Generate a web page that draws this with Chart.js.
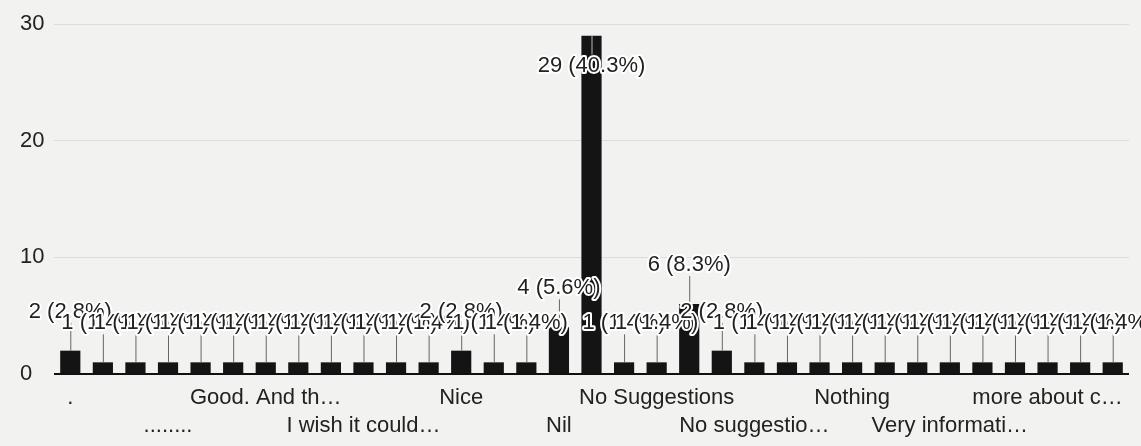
<!DOCTYPE html>
<html>
<head>
<meta charset="utf-8">
<script src="https://cdn.jsdelivr.net/npm/chart.js@4.4.1/dist/chart.umd.min.js"></script>
<style>
  body { margin: 0; background: #f2f2f0; }
  canvas { display: block; }
</style>
</head>
<body>
<canvas id="chart" width="1141" height="446"></canvas>
<script>
// answers, sorted like the form does; only every third label is shown
const categories = [
  ".", "", "", "........", "", "", "Good. And th…", "", "", "I wish it could…", "", "",
  "Nice", "", "", "Nil", "", "", "No Suggestions", "", "", "No suggestio…", "", "",
  "Nothing", "", "", "Very informati…", "", "", "more about c…", "", ""
];
const counts = [
  2, 1, 1, 1, 1, 1, 1, 1, 1, 1, 1, 1,
  2, 1, 1, 4, 29, 1, 1, 6, 2, 1, 1, 1,
  1, 1, 1, 1, 1, 1, 1, 1, 1
];
const yTicks = [0, 10, 20, 30];

const total = counts.reduce((a, b) => a + b, 0);
const FONT = "'Liberation Sans', Arial, sans-serif";

// value (pct%) over each bar, with a little stem like the forms summary
const barLabels = {
  id: "barLabels",
  afterDatasetsDraw(chart) {
    const { ctx, chartArea } = chart;
    const bars = chart.getDatasetMeta(0).data;
    const spots = bars.map((bar, i) => {
      let y = bar.y - 39;
      let inside = false;
      if (y < chartArea.top + 12) {
        y = bar.y + 30;
        inside = true;
      }
      return { x: bar.x, top: bar.y, y, inside, text: counts[i] + " (" + (counts[i] / total * 100).toFixed(1) + "%)" };
    });

    ctx.save();
    ctx.lineWidth = 1;
    spots.forEach((s) => {
      ctx.strokeStyle = s.inside ? "#bbbbbb" : "#666666";
      ctx.beginPath();
      if (s.inside) {
        ctx.moveTo(s.x + 0.5, s.top);
        ctx.lineTo(s.x + 0.5, s.y - 11);
      } else {
        ctx.moveTo(s.x + 0.5, s.y + 11);
        ctx.lineTo(s.x + 0.5, s.top);
      }
      ctx.stroke();
    });

    ctx.font = "22px " + FONT;
    ctx.textAlign = "center";
    ctx.textBaseline = "middle";
    ctx.lineJoin = "round";
    spots.forEach((s) => {
      ctx.strokeStyle = "#ffffff";
      ctx.lineWidth = 4;
      ctx.strokeText(s.text, s.x, s.y);
      ctx.fillStyle = "#222222";
      ctx.fillText(s.text, s.x, s.y);
    });
    ctx.restore();
  },
};

new Chart(document.getElementById("chart"), {
  type: "bar",
  data: {
    labels: categories,
    datasets: [
      {
        data: counts,
        backgroundColor: "#141414",
        borderWidth: 0,
        categoryPercentage: 1,
        barPercentage: 0.62,
      },
    ],
  },
  options: {
    responsive: false,
    animation: false,
    devicePixelRatio: 1,
    layout: { padding: { top: 24, right: 12, bottom: 7, left: 20 } },
    plugins: {
      legend: { display: false },
      tooltip: { enabled: false },
    },
    scales: {
      x: {
        afterFit: (scale) => {
          scale.height = 65;
        },
        grid: { display: false, drawTicks: false },
        border: { display: false },
        ticks: {
          autoSkip: false,
          maxRotation: 0,
          minRotation: 0,
          padding: 10,
          color: "#222222",
          font: { family: FONT, size: 22, lineHeight: 1.28 },
          callback: (value, index) => {
            const t = categories[index];
            if (!t) return "";
            return Math.floor(index / 3) % 2 === 0 ? [t, ""] : ["", t];
          },
        },
      },
      y: {
        min: 0,
        max: 30,
        afterBuildTicks: (scale) => {
          scale.ticks = yTicks.map((v) => ({ value: v }));
        },
        afterFit: (scale) => {
          scale.width = 34;
        },
        border: { display: false },
        grid: {
          drawTicks: false,
          color: (c) => (c.tick && c.tick.value === 0 ? "#111111" : "#dcdcdc"),
          lineWidth: (c) => (c.tick && c.tick.value === 0 ? 2 : 1),
        },
        ticks: {
          crossAlign: "far",
          padding: 8,
          color: "#222222",
          font: { family: FONT, size: 22 },
        },
      },
    },
  },
  plugins: [barLabels],
});
</script>
</body>
</html>
